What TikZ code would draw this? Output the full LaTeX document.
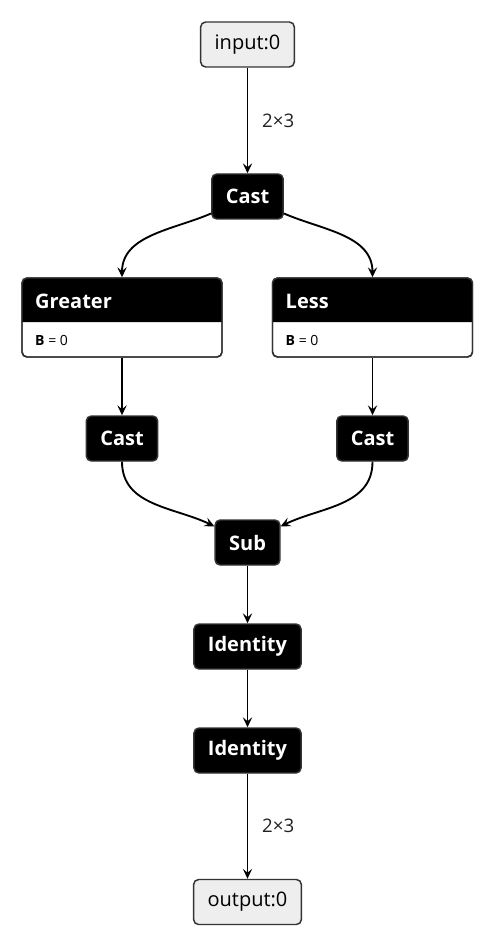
\documentclass[tikz,border=0pt]{standalone}
\usepackage{fontspec}
\setmainfont{Open Sans}
\usepackage{xcolor}
\usepackage{tikz}
\usetikzlibrary{arrows.meta}

\begin{document}
\begin{tikzpicture}[x=0.75pt,y=0.75pt,yscale=-1,xscale=1,
  opnode/.style={draw={rgb, 255:red, 51; green, 51; blue, 51 }, fill=black, text=white, line width=1.1pt, rounded corners=3.75pt, minimum height=33.75pt, inner xsep=10.5pt, font=\fontsize{15}{17}\selectfont\bfseries},
  ionode/.style={draw={rgb, 255:red, 51; green, 51; blue, 51 }, fill={rgb, 255:red, 238; green, 238; blue, 238 }, text=black, line width=1.1pt, rounded corners=3.75pt, minimum height=33.75pt, inner xsep=10.5pt, font=\fontsize{15}{17}\selectfont},
  attrbox/.style={draw={rgb, 255:red, 51; green, 51; blue, 51 }, fill=white, line width=1.1pt, rounded corners=3.75pt, minimum width=150pt, minimum height=59.25pt},
  boxline/.style={draw={rgb, 255:red, 51; green, 51; blue, 51 }, line width=1.1pt, rounded corners=3.75pt},
  headtext/.style={anchor=west, text=white, font=\fontsize{15}{17}\selectfont\bfseries},
  attrtext/.style={anchor=west, text=black, font=\fontsize{10.5}{12}\selectfont},
  edge/.style={draw=black, line width=1.4pt, -{Stealth[length=7.5pt,width=7pt,inset=3pt]}},
  dimlabel/.style={font=\fontsize{14}{16}\selectfont, text={rgb, 255:red, 34; green, 34; blue, 34 }}
]

\useasboundingbox (0,0) rectangle (496,948);

% input and first cast
\node[ionode] (input) at (247.5,44.5) {input:0};

\node[opnode] (cast1) at (247.5,196.5) {Cast};

% Greater
\node[attrbox] (greater) at (122,317.5) {};
\fill[black] (22,322) [rounded corners=3.75pt] -- (22,278) -- (222,278) [sharp corners] -- (222,322) -- cycle;
\draw[boxline] (22,278) rectangle (222,357);
\node[headtext] (greaterlabel) at (30.5,301) {Greater};
\node[attrtext] (greaterattr) at (30.5,340) {\textbf{B} = 0};

% Less
\node[attrbox] (less) at (372.5,317.5) {};
\fill[black] (272.5,322) [rounded corners=3.75pt] -- (272.5,278) -- (472.5,278) [sharp corners] -- (472.5,322) -- cycle;
\draw[boxline] (272.5,278) rectangle (472.5,357);
\node[headtext] (lesslabel) at (281,301) {Less};
\node[attrtext] (lessattr) at (281,340) {\textbf{B} = 0};

\node[opnode] (cast2) at (122,438.5) {Cast};

\node[opnode] (cast3) at (372.5,438.5) {Cast};

\node[opnode] (sub) at (247.5,542.5) {Sub};

\node[opnode] (identity1) at (247.5,646.5) {Identity};

\node[opnode] (identity2) at (247.5,750.5) {Identity};

\node[ionode] (output) at (247.5,902) {output:0};

% edges
\draw[edge] (input) -- node[dimlabel, midway, right=7pt] {2×3} (cast1);

\draw[edge] (cast1.205) .. controls (173,230) and (122,235) .. (greater.north);

\draw[edge] (cast1.-25) .. controls (322,230) and (372.5,235) .. (less.north);

\draw[edge] (greater) -- (cast2);

\draw[edge] (less) -- (cast3);

\draw[edge] (cast2.south) .. controls (122,506) and (174.6,507) .. (sub.154);

\draw[edge] (cast3.south) .. controls (372.5,506) and (320.4,507) .. (sub.26);

\draw[edge] (sub) -- (identity1);

\draw[edge] (identity1) -- (identity2);

\draw[edge] (identity2) -- node[dimlabel, midway, right=7pt] {2×3} (output);

\end{tikzpicture}
\end{document}
